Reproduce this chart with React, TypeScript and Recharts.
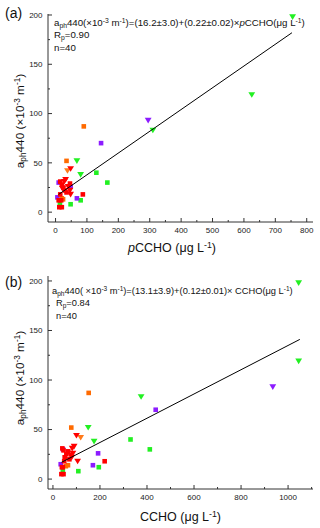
import React from 'react';
import { ScatterChart, Scatter, XAxis, YAxis } from 'recharts';

// a_ph440 values (×10^-3 m^-1) with pCCHO (panel a) and CCHO (panel b) in μg L^-1
const greenTriAph = [198, 119, 83, 52, 38];
const greenTriPCCHO = [755, 625, 310, 68, 80];
const greenTriCCHO = [1045, 1045, 375, 150, 175];

const greenSqAph = [40, 30, 12, 8, 8];
const greenSqPCCHO = [130, 165, 80, 48, 14];
const greenSqCCHO = [330, 412, 195, 108, 42];

const purpleTriAph = [93];
const purpleTriPCCHO = [295];
const purpleTriCCHO = [935];

const purpleSqAph = [70, 14, 30, 15, 26];
const purpleSqPCCHO = [145, 68, 10, 6, 48];
const purpleSqCCHO = [437, 170, 43, 33, 192];

const orangeSqAph = [87, 52, 14, 13];
const orangeSqPCCHO = [90, 35, 20, 24];
const orangeSqCCHO = [152, 78, 64, 55];

const orangeTriAph = [42];
const orangeTriPCCHO = [38];
const orangeTriCCHO = [118];

const redTriAph = [44, 33, 31, 26, 22, 18, 24];
const redTriPCCHO = [48, 32, 28, 40, 46, 48, 22];
const redTriCCHO = [100, 90, 82, 85, 80, 105, 75];

const redSqAph = [18, 31, 29, 5, 5, 12, 12, 25, 22, 28, 20, 18];
const redSqPCCHO = [87, 15, 46, 12, 20, 10, 18, 25, 30, 20, 35, 15];
const redSqCCHO = [220, 40, 45, 36, 45, 38, 42, 57, 50, 65, 70, 48];

// fitted line end points
const fitA = [{ x: 10, y: 18 }, { x: 753, y: 182 }];
const fitB = [{ x: 37, y: 17 }, { x: 1050, y: 141 }];

const yMajor = [0, 50, 100, 150, 200];
const yMinor = [25, 75, 125, 175];
const xMajorA = [0, 100, 200, 300, 400, 500, 600, 700, 800];
const xMinorA = [50, 150, 250, 350, 450, 550, 650, 750];
const xMajorB = [0, 200, 400, 600, 800, 1000];
const xMinorB = [100, 300, 500, 700, 900, 1100];

const RED = '#ff0000';
const ORANGE = '#ff6a00';
const PURPLE = '#8c1cff';
const GREEN = '#22f022';
const AXIS = '#333';
const FONT = '"Liberation Sans", Arial, sans-serif';

const zip = (xs: number[], ys: number[]) => xs.map((x, i) => ({ x, y: ys[i] }));

const square = (color: string) => (p: any) => (
  <rect x={p.cx - 2.3} y={p.cy - 2.3} width={4.6} height={4.6} fill={color} />
);
const triDown = (color: string) => (p: any) => (
  <polygon
    points={`${p.cx - 3.4},${p.cy - 2.6} ${p.cx + 3.4},${p.cy - 2.6} ${p.cx},${p.cy + 3}`}
    fill={color}
  />
);
const noShape = () => <g />;

const M = 9;
const makeBottomTick = (majors: number[]) => (p: any) => {
  const v = p.payload.value;
  const major = majors.includes(v);
  const ay = p.y - M;
  return (
    <g>
      <line x1={p.x} x2={p.x} y1={ay} y2={ay - (major ? 4 : 2)} stroke={AXIS} />
      {major && (
        <text x={p.x} y={ay + 11} textAnchor="middle" fontSize={8} fill="#222" fontFamily={FONT}>
          {v}
        </text>
      )}
    </g>
  );
};
const makeTopTick = (majors: number[]) => (p: any) => {
  const v = p.payload.value;
  const major = majors.includes(v);
  const ay = p.y + M;
  return <line x1={p.x} x2={p.x} y1={ay} y2={ay + (major ? 4 : 2)} stroke={AXIS} />;
};
const makeLeftTick = (majors: number[]) => (p: any) => {
  const v = p.payload.value;
  const major = majors.includes(v);
  const ax = p.x + M;
  return (
    <g>
      <line x1={ax} x2={ax + (major ? 4 : 2)} y1={p.y} y2={p.y} stroke={AXIS} />
      {major && (
        <text x={ax - 5.5} y={p.y + 2.9} textAnchor="end" fontSize={8} fill="#222" fontFamily={FONT}>
          {v}
        </text>
      )}
    </g>
  );
};
const makeRightTick = (majors: number[]) => (p: any) => {
  const v = p.payload.value;
  const major = majors.includes(v);
  const ax = p.x - M;
  return <line x1={ax} x2={ax - (major ? 4 : 2)} y1={p.y} y2={p.y} stroke={AXIS} />;
};

type PanelProps = {
  xs: {
    greenTri: number[]; greenSq: number[]; purpleTri: number[]; purpleSq: number[];
    orangeSq: number[]; orangeTri: number[]; redTri: number[]; redSq: number[];
  };
  fit: { x: number; y: number }[];
  xDomain: [number, number];
  yDomain: [number, number];
  xMajor: number[];
  xMinor: number[];
  height: number;
  xAxisHeight: number;
};

function Panel({ xs, fit, xDomain, yDomain, xMajor, xMinor, height, xAxisHeight }: PanelProps) {
  const xTicks = [...xMajor, ...xMinor].sort((a, b) => a - b);
  const yTicks = [...yMajor, ...yMinor].sort((a, b) => a - b);
  return (
    <ScatterChart width={320} height={height} margin={{ top: 14, right: 7, bottom: 0, left: 0 }}>
      <XAxis
        xAxisId={0}
        type="number"
        dataKey="x"
        domain={xDomain}
        allowDataOverflow
        ticks={xTicks}
        interval={0}
        height={xAxisHeight}
        tickSize={0}
        tickMargin={M}
        tickLine={false}
        axisLine={{ stroke: AXIS }}
        tick={makeBottomTick(xMajor)}
      />
      <XAxis
        xAxisId="top"
        orientation="top"
        type="number"
        dataKey="x"
        domain={xDomain}
        allowDataOverflow
        ticks={xTicks}
        interval={0}
        height={0}
        tickSize={0}
        tickMargin={M}
        tickLine={false}
        axisLine={{ stroke: AXIS }}
        tick={makeTopTick(xMajor)}
      />
      <YAxis
        yAxisId={0}
        type="number"
        dataKey="y"
        domain={yDomain}
        allowDataOverflow
        ticks={yTicks}
        interval={0}
        width={48}
        tickSize={0}
        tickMargin={M}
        tickLine={false}
        axisLine={{ stroke: AXIS }}
        tick={makeLeftTick(yMajor)}
      />
      <YAxis
        yAxisId="right"
        orientation="right"
        type="number"
        dataKey="y"
        domain={yDomain}
        allowDataOverflow
        ticks={yTicks}
        interval={0}
        width={0}
        tickSize={0}
        tickMargin={M}
        tickLine={false}
        axisLine={{ stroke: AXIS }}
        tick={makeRightTick(yMajor)}
      />
      <Scatter data={zip(xs.greenTri, greenTriAph)} shape={triDown(GREEN)} isAnimationActive={false} />
      <Scatter data={zip(xs.greenSq, greenSqAph)} shape={square(GREEN)} isAnimationActive={false} />
      <Scatter data={zip(xs.purpleTri, purpleTriAph)} shape={triDown(PURPLE)} isAnimationActive={false} />
      <Scatter data={zip(xs.purpleSq, purpleSqAph)} shape={square(PURPLE)} isAnimationActive={false} />
      <Scatter data={zip(xs.orangeSq, orangeSqAph)} shape={square(ORANGE)} isAnimationActive={false} />
      <Scatter data={zip(xs.orangeTri, orangeTriAph)} shape={triDown('#ff7a1a')} isAnimationActive={false} />
      <Scatter data={zip(xs.redSq, redSqAph)} shape={square(RED)} isAnimationActive={false} />
      <Scatter data={zip(xs.redTri, redTriAph)} shape={triDown(RED)} isAnimationActive={false} />
      <Scatter
        data={fit}
        shape={noShape}
        line={{ stroke: '#000', strokeWidth: 1 }}
        isAnimationActive={false}
      />
    </ScatterChart>
  );
}

const abs = (left: number, top: number, size: number, extra: React.CSSProperties = {}): React.CSSProperties => ({
  position: 'absolute',
  left,
  top,
  fontSize: size,
  lineHeight: 1,
  whiteSpace: 'nowrap',
  fontFamily: FONT,
  color: '#111',
  ...extra,
});

const sub: React.CSSProperties = { fontSize: '0.7em', verticalAlign: '-0.25em' };
const sup: React.CSSProperties = { fontSize: '0.7em', verticalAlign: '0.45em' };

const EQ_A = 9.7;
const EQ_B = 9.3;

function YTitle({ cx, cy }: { cx: number; cy: number }) {
  return (
    <div style={abs(cx, cy, 11.8, { transform: 'translate(-50%,-50%) rotate(-90deg)' })}>
      a<span style={sub}>ph</span>440 (×10<span style={sup}>-3</span> m<span style={sup}>-1</span>)
    </div>
  );
}

export default function App() {
  return (
    <div style={{ position: 'absolute', left: 0, top: 0, width: 320, height: 528, background: '#fff' }}>
      <div style={{ position: 'absolute', left: 0, top: 0 }}>
        <Panel
          xs={{
            greenTri: greenTriPCCHO, greenSq: greenSqPCCHO, purpleTri: purpleTriPCCHO, purpleSq: purpleSqPCCHO,
            orangeSq: orangeSqPCCHO, orangeTri: orangeTriPCCHO, redTri: redTriPCCHO, redSq: redSqPCCHO,
          }}
          fit={fitA}
          xDomain={[-24, 820]}
          yDomain={[-10, 201]}
          xMajor={xMajorA}
          xMinor={xMinorA}
          height={260}
          xAxisHeight={38}
        />
      </div>
      <div style={{ position: 'absolute', left: 0, top: 262 }}>
        <Panel
          xs={{
            greenTri: greenTriCCHO, greenSq: greenSqCCHO, purpleTri: purpleTriCCHO, purpleSq: purpleSqCCHO,
            orangeSq: orangeSqCCHO, orangeTri: orangeTriCCHO, redTri: redTriCCHO, redSq: redSqCCHO,
          }}
          fit={fitB}
          xDomain={[-21, 1106]}
          yDomain={[-10, 205]}
          xMajor={xMajorB}
          xMinor={xMinorB}
          height={266}
          xAxisHeight={39}
        />
      </div>

      {/* panel (a) texts */}
      <div style={abs(5, 6, 14)}>(a)</div>
      <div style={abs(54, 17.5, EQ_A)}>
        a<span style={sub}>ph</span>440(×10<span style={sup}>-3</span> m<span style={sup}>-1</span>)=(16.2±3.0)+(0.22±0.02)×<i>p</i>CCHO(μg L<span style={sup}>-1</span>)
      </div>
      <div style={abs(54, 30, EQ_A)}>
        R<span style={sub}>p</span>=0.90
      </div>
      <div style={abs(54, 43, EQ_A)}>n=40</div>
      <YTitle cx={20.5} cy={121} />
      <div style={abs(172, 248, 12.5, { transform: 'translate(-50%,-50%)' })}>
        <i>p</i>CCHO (μg L<span style={sup}>-1</span>)
      </div>

      {/* panel (b) texts */}
      <div style={abs(5, 275, 14)}>(b)</div>
      <div style={abs(52, 286, EQ_B)}>
        a<span style={sub}>ph</span>440( ×10<span style={sup}>-3</span> m<span style={sup}>-1</span>)=(13.1±3.9)+(0.12±0.01)× CCHO(μg L<span style={sup}>-1</span>)
      </div>
      <div style={abs(56, 298.5, EQ_B)}>
        R<span style={sub}>p</span>=0.84
      </div>
      <div style={abs(56, 312, EQ_B)}>n=40</div>
      <YTitle cx={20.5} cy={378} />
      <div style={abs(180.5, 516.5, 12.5, { transform: 'translate(-50%,-50%)' })}>
        CCHO (μg L<span style={sup}>-1</span>)
      </div>
    </div>
  );
}
